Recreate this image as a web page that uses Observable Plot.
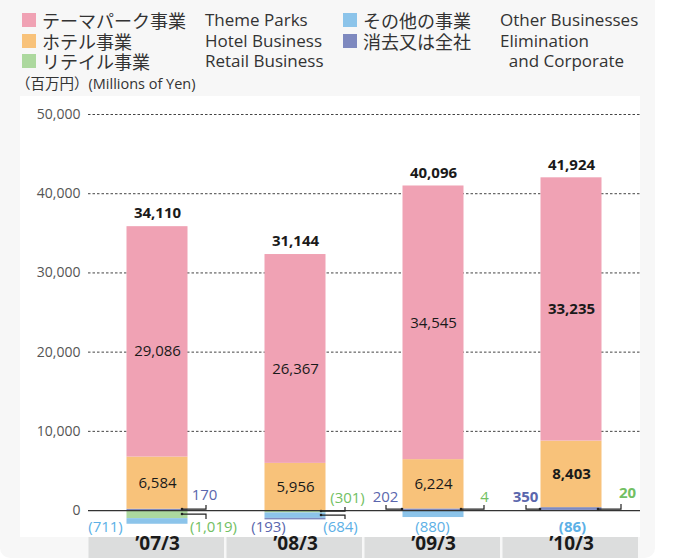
<!DOCTYPE html>
<html><head><meta charset="utf-8">
<script src="https://cdn.jsdelivr.net/npm/d3@7"></script>
<script src="https://cdn.jsdelivr.net/npm/@observablehq/plot@0.6"></script>
<style>
body{margin:0;background:#fff;font-family:"Open Sans","Noto Sans CJK JP",sans-serif;}
#wrap{position:relative;width:655px;height:558px;background:#f7f7f7;border-radius:0 0 10px 10px;overflow:hidden}
#panel{position:absolute;left:20px;top:96px;width:620px;height:441px;background:#fff}
#legend{position:absolute;left:22px;top:10px;display:grid;grid-template-columns:14px 6px 163px 138px 14px 6px 137px auto;grid-auto-rows:20.5px;align-items:center;color:#333}
#legend .sw{width:14px;height:14px}
#legend .jp{font-family:"Noto Sans CJK JP",sans-serif;font-size:18px;line-height:20px;color:#333}
#legend .en{font-family:"Open Sans",sans-serif;font-size:17px;line-height:20px;color:#333;white-space:nowrap}
#unit{position:absolute;left:16px;top:73px;font-size:14.5px;line-height:20px;color:#333;font-family:"Noto Sans CJK JP",sans-serif;white-space:nowrap}
#unit .en{font-family:"Open Sans",sans-serif;font-size:14.5px}
#chart{position:absolute;left:0;top:95px;width:675px}
#chart svg{max-width:none !important}
</style></head>
<body>
<div id="wrap">
  <div id="legend"></div>
  <div id="unit">（百万円）<span class="en">(Millions of Yen)</span></div>
  <div id="panel"></div>
  <div id="chart"></div>
</div>
<script>
// ---- data ----
const categories = ["’07/3", "’08/3", "’09/3", "’10/3"];
const themeParks  = [29086, 26367, 34545, 33235];
const hotel       = [6584, 5956, 6224, 8403];
const retail      = [-1019, -301, 4, 20];
const other       = [-711, -684, -880, -86];
const elimination = [170, -193, 202, 350];
const totals      = [34110, 31144, 40096, 41924];
const yTicks      = [0, 10000, 20000, 30000, 40000, 50000];

const seriesKeys = ["Retail", "Other", "Elimination", "Hotel", "Theme"];
const seriesJP = {Theme:"テーマパーク事業", Hotel:"ホテル事業", Retail:"リテイル事業", Other:"その他の事業", Elimination:"消去又は全社"};
const seriesEN = {Theme:"Theme Parks", Hotel:"Hotel Business", Retail:"Retail Business", Other:"Other Businesses", Elimination:"Elimination<br>&nbsp;&nbsp;and Corporate"};

// ---- styles / layout ----
const colors = {Theme:"#f0a2b4", Hotel:"#f8c27a", Retail:"#acd89e", Other:"#8cc4ea", Elimination:"#7e89bf"};
const labelColors = {Retail:"#72c063", Other:"#5cb0e6", Elimination:"#5a66ad"};
const boldCat = "’10/3";
// annotation offsets relative to category centre and y(0)
const annotLayout = {
  "’07/3": {Elimination:[47,-15], Retail:[56,17], Other:[-52,17]},
  "’08/3": {Retail:[52,-12], Other:[45,17], Elimination:[-27,17]},
  "’09/3": {Elimination:[-48,-13], Retail:[51,-13], Other:[-1,17]},
  "’10/3": {Elimination:[-46,-13], Retail:[56,-17], Other:[1,17]}
};
// brackets: [x from, x to, line y, tick end y] relative to centre / y(0)
const bracketLayout = {
  "’07/3": [[25,49,-1,-5],[25,49,4,9]],
  "’08/3": [[26,50,1,-3],[26,50,5,9]],
  "’09/3": [[-31,-47,-1,-5],[28,51,-1,-5]],
  "’10/3": [[-31,-45,-1,-5],[27,50,-1,-6]]
};
const themeDy = {"’07/3":9, "’08/3":10, "’09/3":0, "’10/3":0};

// ---- legend ----
const leg = document.getElementById("legend");
const rows = [["Theme","Other"],["Hotel","Elimination"],["Retail",null]];
for (const [a,b] of rows) {
  leg.insertAdjacentHTML("beforeend",
    `<div class="sw" style="background:${colors[a]}"></div><div></div><div class="jp">${seriesJP[a]}</div><div class="en">${seriesEN[a]}</div>`);
  if (b) {
    leg.insertAdjacentHTML("beforeend",
      `<div class="sw" style="background:${colors[b]}"></div><div></div><div class="jp">${seriesJP[b]}</div><div class="en" style="position:relative"><div style="position:absolute;top:-10px;line-height:20.5px">${seriesEN[b]}</div></div>`);
  } else {
    leg.insertAdjacentHTML("beforeend", `<div></div><div></div><div></div><div></div>`);
  }
}

// ---- table ----
const seriesValues = {Theme:themeParks, Hotel:hotel, Retail:retail, Other:other, Elimination:elimination};
const rowsData = [];
categories.forEach((c,i) => seriesKeys.forEach(s => rowsData.push({cat:c, series:s, value:seriesValues[s][i]})));

const fmt = d3.format(",");
const fmtP = v => v < 0 ? `(${fmt(-v)})` : fmt(v);

const posBase = categories.map((c,i) => ["Retail","Elimination"].reduce((a,s)=>a+Math.max(0,seriesValues[s][i]),0));
const hotelMid = categories.map((c,i) => ({cat:c, y: posBase[i] + hotel[i]/2, v: hotel[i]}));
const themeMid = categories.map((c,i) => ({cat:c, y: posBase[i] + hotel[i] + themeParks[i]/2, v: themeParks[i]}));
const topData = categories.map((c,i) => ({cat:c, y: posBase[i] + hotel[i] + themeParks[i], v: totals[i]}));

const W = 675, H = 464, mL = 88, mR = 35, mT = 19, mB = 22;
const step = (W - mL - mR) / categories.length;

const annotMarks = [];
for (const c of categories) {
  const i = categories.indexOf(c);
  for (const [s, [dx, dy]] of Object.entries(annotLayout[c])) {
    annotMarks.push(Plot.text([{cat:c, v: seriesValues[s][i]}], {
      x: "cat", y: () => 0, text: d => fmtP(d.v), dx, dy,
      fill: labelColors[s], fontSize: 15, fontWeight: c === boldCat ? "bold" : "normal"
    }));
  }
}

const boxes = (index, scales, values, dims) => {
  const g = d3.create("svg:g");
  for (const c of categories) {
    g.append("rect").attr("x", scales.x(c) + 0.5).attr("width", step - 2.5)
      .attr("y", dims.height - dims.marginBottom).attr("height", dims.marginBottom)
      .attr("fill", "#dcdddd");
  }
  return g.node();
};
const brackets = (index, scales, values, dims) => {
  const g = d3.create("svg:g").attr("fill","none").attr("stroke","#222").attr("stroke-width",1.2);
  const y0 = scales.y(0);
  for (const c of categories) {
    const cx = scales.x(c) + step/2;
    for (const [a,b,ly,ty] of bracketLayout[c]) {
      g.append("path").attr("d", `M${cx+a},${y0+ly}H${cx+b}V${y0+ty}`);
      g.append("circle").attr("cx", cx+a).attr("cy", y0+ly).attr("r", 1.3).attr("fill","#222").attr("stroke","none");
    }
  }
  return g.node();
};

const segLabels = (rows, dyOf) => categories.map(c => Plot.text(rows.filter(d => d.cat === c), {
  x: "cat", y: "y", text: d => fmt(d.v), fill: "#1a1a1a", fontSize: 15, dy: dyOf(c),
  fontWeight: c === boldCat ? "bold" : "normal"
}));

const chart = Plot.plot({
  width: W, height: H, marginLeft: mL, marginRight: mR, marginTop: mT, marginBottom: mB,
  style: {background: "transparent", fontFamily: "'Open Sans', sans-serif", overflow: "visible", maxWidth: "none"},
  x: {domain: categories, padding: 0, axis: null},
  y: {domain: [-3400, 50000], axis: null},
  color: {domain: seriesKeys, range: seriesKeys.map(s => colors[s])},
  marks: [
    Plot.ruleY(yTicks.filter(t => t > 0), {stroke: "#444", strokeDasharray: "2.5,2", strokeWidth: 1}),
    Plot.barY(rowsData, {x: "cat", y: "value", fill: "series", order: seriesKeys, insetLeft: 38.5, insetRight: 38.5}),
    Plot.ruleY([0], {stroke: "#333", strokeWidth: 1.3}),
    Plot.text(yTicks, {y: d => d, frameAnchor: "left", dx: -8, textAnchor: "end", text: d => fmt(d), fill: "#555", fontSize: 14}),
    ...segLabels(hotelMid, () => 0),
    ...segLabels(themeMid, c => themeDy[c]),
    Plot.text(topData, {x: "cat", y: "y", text: d => fmt(d.v), dy: -13, fill: "#1a1a1a", fontSize: 15, fontWeight: "bold"}),
    ...annotMarks,
    brackets,
    boxes,
    Plot.text(categories, {x: d => d, frameAnchor: "bottom", dy: 12, text: d => d, fill: "#1a1a1a", fontSize: 19, fontWeight: "bold"})
  ]
});
document.getElementById("chart").appendChild(chart);
</script>
</body></html>
